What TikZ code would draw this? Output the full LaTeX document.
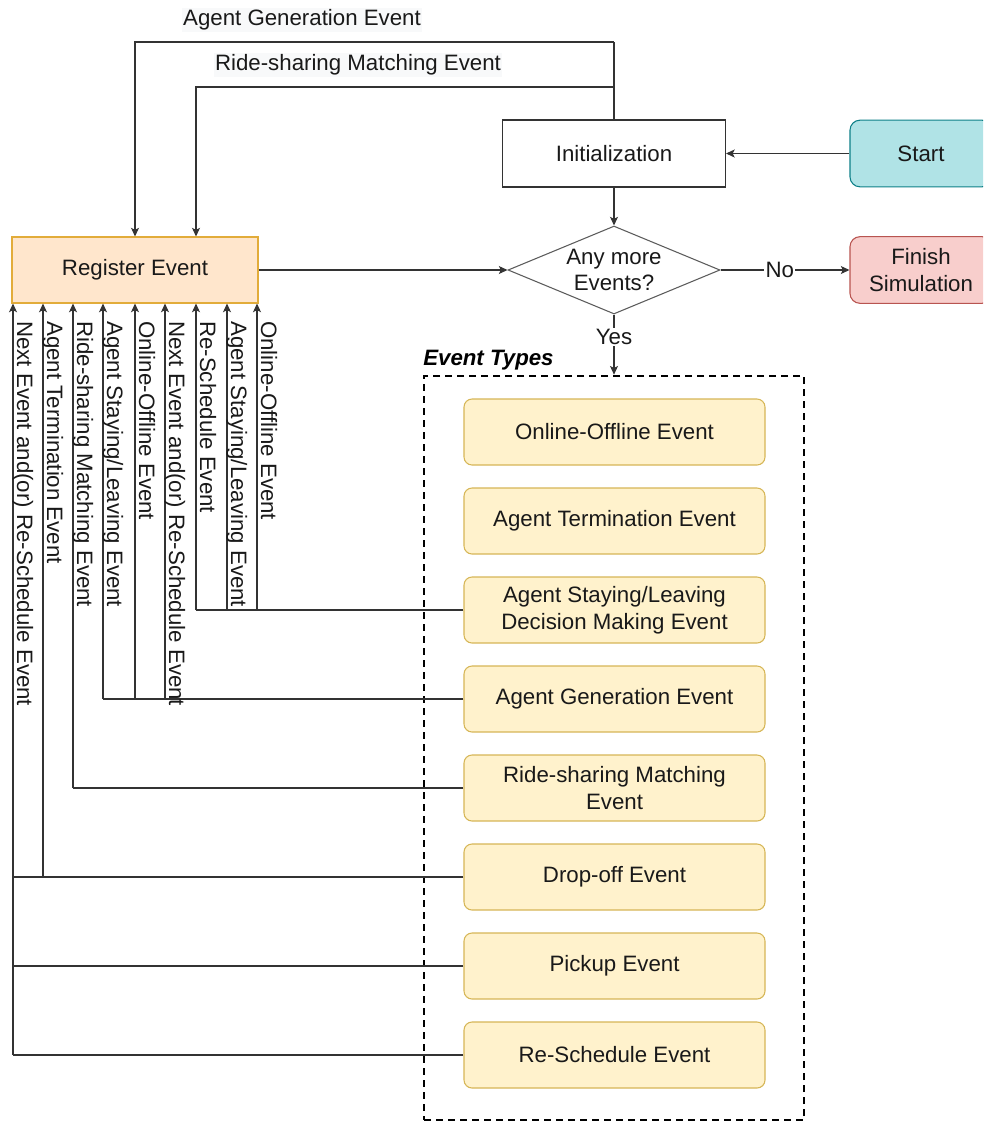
\documentclass[tikz,border=0pt]{standalone}
\usepackage{fontspec}
\setmainfont{Liberation Sans}
\usetikzlibrary{shapes.geometric,arrows.meta}

\definecolor{lineC}{HTML}{333333}
\definecolor{startFill}{HTML}{B0E3E6}
\definecolor{startLine}{HTML}{0E8088}
\definecolor{finFill}{HTML}{F8CECC}
\definecolor{finLine}{HTML}{B85450}
\definecolor{regFill}{HTML}{FFE6CC}
\definecolor{regLine}{HTML}{E2AC3A}
\definecolor{evFill}{HTML}{FFF2CC}
\definecolor{evLine}{HTML}{D6B656}
\definecolor{lblFill}{HTML}{F8F9FA}

\tikzset{
  txt/.style={font=\fontsize{16.7}{20}\selectfont, text=black!90, align=center},
  arr/.style={draw=lineC, line width=0.8pt, -{Stealth[length=6.5pt,width=6pt,inset=1.5pt]}},
  wire/.style={draw=lineC, line width=0.8pt},
  plainbox/.style={txt, draw=lineC, line width=0.8pt, fill=white,
    minimum width=167.25pt, minimum height=50.25pt, inner sep=0pt},
  termbox/.style={txt, line width=0.8pt, rounded corners=7.5pt,
    minimum width=106.5pt, minimum height=50pt, inner sep=0pt},
  regbox/.style={txt, draw=regLine, fill=regFill, line width=0.8pt,
    minimum width=184.5pt, minimum height=49.5pt, inner sep=0pt},
  evbox/.style={txt, draw=evLine, fill=evFill, line width=0.8pt, rounded corners=6pt,
    minimum width=225.75pt, minimum height=49.5pt, inner sep=0pt},
  decision/.style={txt, shape=diamond, draw=lineC!80, line width=0.8pt, fill=white,
    aspect=2.4, inner sep=0pt, minimum width=159pt, minimum height=66pt},
  vlabel/.style={txt, rotate=-90, anchor=base west, inner sep=0pt},
  toplabel/.style={txt, fill=lblFill, inner sep=1pt},
  grouplabel/.style={font=\fontsize{16.7}{20}\selectfont\bfseries\itshape, anchor=base west, inner sep=0pt},
  groupbox/.style={draw=black, line width=2pt, dash pattern=on 5.5pt off 3.5pt,
    minimum width=285pt, minimum height=558pt, inner sep=0pt}
}

\begin{document}
\begin{tikzpicture}[x=0.75pt,y=-0.75pt]
\useasboundingbox (0,0) rectangle (983,1122);
\clip (0,0) rectangle (983,1122);

% main flow nodes
\node[plainbox] (init) at (614,153.5) {Initialization};
\node[termbox, draw=startLine, fill=startFill] (start) at (921,153.5) {Start};
\node[regbox] (reg) at (135,270) {Register Event};
\node[decision] (dec) at (614,270) {Any more\\Events?};
\node[termbox, draw=finLine, fill=finFill] (fin) at (921,270) {Finish\\Simulation};

% event type container
\node[groupbox] (types) at (614,748) {};
\node[grouplabel] (typesl) at (423,365) {Event Types};

% event types
\node[evbox] (ev1) at (614.5,432) {Online-Offline Event};
\node[evbox] (ev2) at (614.5,521) {Agent Termination Event};
\node[evbox] (ev3) at (614.5,610) {Agent Staying/Leaving\\Decision Making Event};
\node[evbox] (ev4) at (614.5,699) {Agent Generation Event};
\node[evbox] (ev5) at (614.5,788) {Ride-sharing Matching\\Event};
\node[evbox] (ev6) at (614.5,877) {Drop-off Event};
\node[evbox] (ev7) at (614.5,966) {Pickup Event};
\node[evbox] (ev8) at (614.5,1055) {Re-Schedule Event};

% main flow connectors
\draw[arr] (start.west) -- (init.east);
\draw[arr] (init.south) -- (dec.north);
\draw[arr] (reg.east) -- (dec.west);
\draw[arr] (dec.east) -- node[txt, fill=white, inner sep=1pt, pos=0.46] (nolbl) {No} (fin.west);
\draw[arr] (dec.south) -- node[txt, fill=white, inner sep=1pt, pos=0.37] (yeslbl) {Yes} (types.north);

% loops from initialization back to register
\coordinate (tg) at (614,42);
\coordinate (tgl) at (135,42);
\coordinate (tr) at (614,87);
\coordinate (trl) at (196,87);
\draw[wire] (init.north) -- (tg);
\draw[arr] (tg) -- (tgl) -- (tgl |- reg.north);
\draw[arr] (tr) -- (trl) -- (trl |- reg.north);
\node[toplabel] (tgtxt) at (302,20) {Agent Generation Event};
\node[toplabel] (trtxt) at (358,65) {Ride-sharing Matching Event};

% feedback from event types to register
\coordinate (a1) at (196,610);
\coordinate (a2) at (227,610);
\coordinate (a3) at (257,610);
\draw[wire] (ev3.west) -- (a1);
\foreach \c in {a1,a2,a3} \draw[arr] (\c) -- (\c |- reg.south);

\coordinate (b1) at (103,699);
\coordinate (b2) at (135,699);
\coordinate (b3) at (165,699);
\draw[wire] (ev4.west) -- (b1);
\foreach \c in {b1,b2,b3} \draw[arr] (\c) -- (\c |- reg.south);

\coordinate (c1) at (73,788);
\draw[wire] (ev5.west) -- (c1);
\draw[arr] (c1) -- (c1 |- reg.south);

\coordinate (d0) at (13,877);
\coordinate (d2) at (43,877);
\coordinate (d3) at (13,966);
\coordinate (d1) at (13,1055);
\draw[wire] (ev6.west) -- (d0);
\draw[wire] (ev7.west) -- (d3);
\draw[wire] (ev8.west) -- (d1);
\draw[arr] (d1) -- (d1 |- reg.south);
\draw[arr] (d2) -- (d2 |- reg.south);

% vertical labels
\node[vlabel] (l1) at (17,321) {Next Event and(or) Re-Schedule Event};
\node[vlabel] (l2) at (47,321) {Agent Termination Event};
\node[vlabel] (l3) at (77,321) {Ride-sharing Matching Event};
\node[vlabel] (l4) at (107,321) {Agent Staying/Leaving Event};
\node[vlabel] (l5) at (139,321) {Online-Offline Event};
\node[vlabel] (l6) at (169,321) {Next Event and(or) Re-Schedule Event};
\node[vlabel] (l7) at (200,321) {Re-Schedule Event};
\node[vlabel] (l8) at (231,321) {Agent Staying/Leaving Event};
\node[vlabel] (l9) at (261,321) {Online-Offline Event};
\end{tikzpicture}
\end{document}
